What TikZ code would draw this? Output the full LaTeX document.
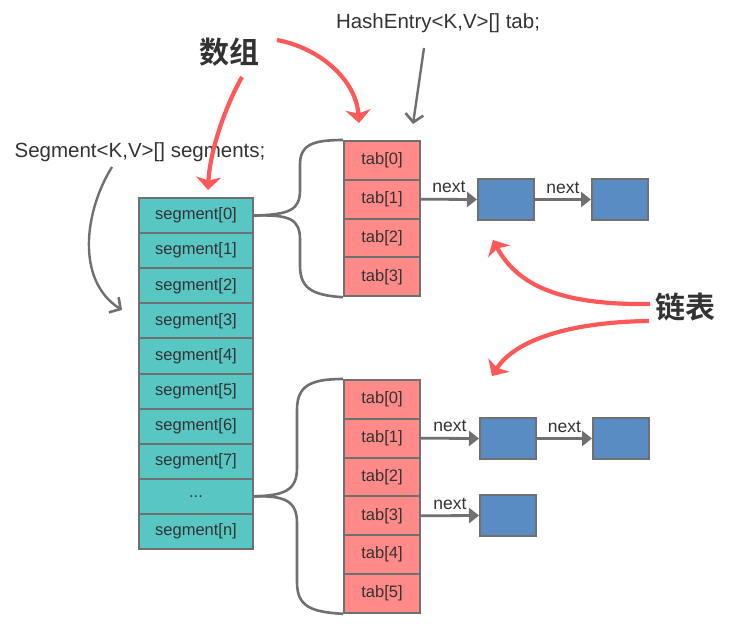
\documentclass[tikz,border=0pt]{standalone}
\usepackage{fontspec}
\setmainfont{Liberation Sans}
\newfontfamily\cjk{Noto Sans CJK SC}[BoldFont={Noto Sans CJK SC Bold}]
\usetikzlibrary{arrows.meta}
\definecolor{segcol}{HTML}{58C6C3}
\definecolor{tabcol}{HTML}{FF8A87}
\definecolor{nodecol}{HTML}{5A8CC4}
\definecolor{edgegray}{HTML}{707070}
\definecolor{redarrow}{HTML}{FF5858}
\definecolor{txt}{HTML}{333333}
\begin{document}
\begin{tikzpicture}[x=1pt,y=-1pt,
  cellbase/.style={draw=edgegray, line width=2pt, inner sep=0pt, anchor=north west,
    text=txt, font=\fontsize{16.5}{18}\selectfont},
  segcell/.style={cellbase, fill=segcol, minimum width=114pt, minimum height=35.1pt},
  tabcell/.style={cellbase, fill=tabcol, minimum width=76pt, minimum height=38.8pt},
  listnode/.style={cellbase, fill=nodecol, minimum width=56pt, minimum height=41pt},
  nextarrow/.style={draw=edgegray, line width=2.8pt, -{Triangle[length=10pt,width=15pt]}},
  nextlabel/.style={midway, above, yshift=1.5pt, text=txt, font=\fontsize{17.5}{18}\selectfont},
  brace/.style={draw=edgegray, line width=2.6pt},
  labelarrow/.style={draw=edgegray, line width=2.4pt, -{Straight Barb[length=8pt,width=18pt,line width=2.6pt]}},
  redarr/.style={draw=redarrow, line width=4.2pt, -{Stealth[length=13pt,width=25pt,inset=3.5pt]}},
  codelabel/.style={text=txt, font=\fontsize{20.5}{22}\selectfont, inner sep=0pt},
  cnlabel/.style={text=txt, font=\cjk\bfseries\fontsize{30}{32}\selectfont, inner sep=0pt}]
\useasboundingbox (0,0) rectangle (729,624);

% segment column
\foreach \i/\t in {0/{segment[0]},1/{segment[1]},2/{segment[2]},3/{segment[3]},4/{segment[4]},5/{segment[5]},6/{segment[6]},7/{segment[7]},8/{...},9/{segment[n]}}
  \node[segcell] (s\i) at (138,{197+35.1*\i}) {\t};

% top tab column
\foreach \i in {0,...,3}
  \node[tabcell] (t\i) at (343,{140+38.8*\i}) {tab[\i]};
% bottom tab column
\foreach \i in {0,...,5}
  \node[tabcell] (u\i) at (343,{379+38.8*\i}) {tab[\i]};

% list nodes
\node[listnode] (a1) at (477,178) {};
\node[listnode] (a2) at (591,178) {};
\node[listnode] (b1) at (479,417) {};
\node[listnode] (b2) at (592,417) {};
\node[listnode] (c1) at (479,494) {};

% next arrows
\draw[nextarrow] (t1.east) -- (a1.west) node[nextlabel] {next};
\draw[nextarrow] (a1.east) -- (a2.west) node[nextlabel] {next};
\draw[nextarrow] (u1.east) -- (b1.west) node[nextlabel] {next};
\draw[nextarrow] (b1.east) -- (b2.west) node[nextlabel] {next};
\draw[nextarrow] (u3.east) -- (c1.west) node[nextlabel] {next};

% braces
\draw[brace] (s0.east) .. controls (290,214.5) and (300,210) .. (300,190) -- (300,165)
  .. controls (300,146) and (310,140) .. (t0.north west);
\draw[brace] (s0.east) .. controls (290,214.5) and (300,219) .. (300,240) -- (300,265)
  .. controls (300,287) and (310,295.2) .. (t3.south west);
\draw[brace] (s8.east) .. controls (285,495.5) and (297,490) .. (297,468) -- (297,410)
  .. controls (297,386) and (310,379) .. (u0.north west);
\draw[brace] (s8.east) .. controls (285,495.5) and (297,501) .. (297,523) -- (297,582)
  .. controls (297,606) and (310,612) .. (u5.south west);

% code labels
\node[codelabel] (hash) at (438,23) {HashEntry<K,V>[] tab;};
\node[codelabel] (seglab) at (140,152) {Segment<K,V>[] segments;};
\coordinate (h1) at (424,48);
\coordinate (h2) at (413,124);
\draw[labelarrow] (h1) -- (h2);
\coordinate (g1) at (112,167);
\coordinate (g2) at (122,310);
\draw[labelarrow] (g1) .. controls (85,210) and (75,280) .. (g2);

% chinese labels
\node[cnlabel] (arr) at (229,52) {数组};
\node[cnlabel] (lst) at (685,307) {链表};
\coordinate (r1s) at (242,77);
\coordinate (r1e) at (208,190);
\coordinate (r2s) at (277,40);
\coordinate (r2e) at (359,123);
\coordinate (r3s) at (650,304);
\coordinate (r3e) at (493,240);
\coordinate (r4s) at (649,321);
\coordinate (r4e) at (492,376);
\draw[redarr] (r1s) .. controls (226,105) and (210,150) .. (r1e);
\draw[redarr] (r2s) .. controls (320,48) and (356,80) .. (r2e);
\draw[redarr] (r3s) .. controls (570,305) and (520,290) .. (r3e);
\draw[redarr] (r4s) .. controls (570,322) and (515,340) .. (r4e);
\end{tikzpicture}
\end{document}
